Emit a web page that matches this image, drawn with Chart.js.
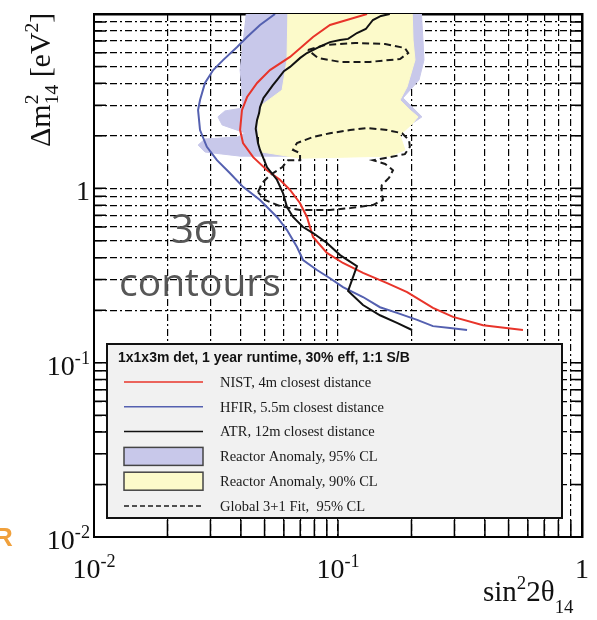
<!DOCTYPE html>
<html>
<head>
<meta charset="utf-8">
<script src="https://cdn.jsdelivr.net/npm/chart.js@4/dist/chart.umd.min.js"></script>
<style>
  html, body { margin: 0; padding: 0; background: #fff; }
  canvas { display: block; }
</style>
</head>
<body>
<canvas id="grafico" width="597" height="620"></canvas>
<script>
// Rejilla de los ejes (log-log)
const xTicks = [0.01, 0.02, 0.03, 0.04, 0.05, 0.06, 0.07, 0.08, 0.09,
                0.1, 0.2, 0.3, 0.4, 0.5, 0.6, 0.7, 0.8, 0.9, 1];
const yTicks = [0.01, 0.02, 0.03, 0.04, 0.05, 0.06, 0.07, 0.08, 0.09,
                0.1, 0.2, 0.3, 0.4, 0.5, 0.6, 0.7, 0.8, 0.9,
                1, 2, 3, 4, 5, 6, 7, 8, 9, 10];
const xEtiquetasValor = [0.01, 0.1, 1];
const xEtiquetas = ["10^-2", "10^-1", "1"];
const yEtiquetasValor = [0.01, 0.1, 1];
const yEtiquetas = ["10^-2", "10^-1", "1"];

// NIST, 4m
const nistX = [0.1315, 0.0927, 0.0790, 0.0636, 0.0526, 0.0466, 0.0424, 0.0404, 0.0397, 0.0408, 0.0449, 0.0512,
               0.0578, 0.0636, 0.0698, 0.0746, 0.0790, 0.0901, 0.1048, 0.1266, 0.159, 0.192, 0.245, 0.296, 0.393, 0.573];
const nistY = [10, 8.65, 7.38, 5.67, 4.77, 4.02, 3.34, 2.81, 2.16, 1.82, 1.51, 1.27,
               1.12, 0.978, 0.824, 0.685, 0.526, 0.426, 0.373, 0.327, 0.286, 0.254, 0.206, 0.183, 0.164, 0.154];

// HFIR, 5.5m
const hfirX = [0.0552, 0.0479, 0.0424, 0.0386, 0.0338, 0.0308, 0.0285, 0.0272, 0.0267, 0.0272, 0.0290, 0.0319,
               0.0361, 0.0408, 0.0479, 0.0562, 0.0618, 0.0679, 0.0719, 0.0820, 0.0927, 0.1048, 0.1266, 0.1486,
               0.1745, 0.211, 0.245, 0.288, 0.338];
const hfirY = [10, 8.65, 7.38, 6.47, 5.44, 4.77, 4.02, 3.21, 2.81, 2.16, 1.73, 1.45,
               1.22, 1.02, 0.857, 0.685, 0.576, 0.461, 0.388, 0.340, 0.305, 0.271, 0.238, 0.208,
               0.193, 0.176, 0.162, 0.158, 0.154];

// ATR, 12m (la parte alta es ondulada)
const atrX = [0.163, 0.150, 0.139, 0.130, 0.1196, 0.110, 0.102, 0.0927, 0.0850, 0.0746, 0.0700, 0.0636, 0.0600,
              0.0562, 0.0540, 0.0512, 0.0495, 0.0479, 0.0475, 0.0466, 0.0460, 0.0466, 0.0470, 0.0479,
              0.0512, 0.0562, 0.0595, 0.0618, 0.0654, 0.0719, 0.0790, 0.0901, 0.102, 0.1196, 0.110,
              0.1266, 0.1486, 0.1745, 0.201];
const atrY = [10, 9.75, 9.24, 8.20, 7.78, 7.20, 7.09, 6.90, 6.55, 5.97, 5.60, 4.97, 4.70,
              4.18, 3.90, 3.52, 3.30, 2.92, 2.70, 2.47, 2.20, 1.97, 1.82, 1.66,
              1.32, 1.12, 0.940, 0.781, 0.685, 0.600, 0.554, 0.486, 0.414, 0.358, 0.258,
              0.214, 0.187, 0.169, 0.154];

// Global 3+1 fit, 95% CL (dos contornos cerrados)
const ajusteAX = [0.0753, 0.0884, 0.1175, 0.156, 0.188, 0.194, 0.1795, 0.135, 0.102, 0.0828, 0.0753];
const ajusteAY = [6.21, 6.64, 6.82, 6.73, 6.38, 5.97, 5.52, 5.31, 5.31, 5.60, 6.21];
const ajusteBX = [0.0470, 0.0488, 0.0526, 0.0590, 0.0624, 0.0699, 0.0699, 0.0654, 0.0679, 0.0790, 0.0927,
                  0.112, 0.1315, 0.159, 0.183, 0.1955, 0.197, 0.188, 0.163, 0.139, 0.156, 0.168, 0.162,
                  0.151, 0.151, 0.153, 0.139, 0.112, 0.0927, 0.0698, 0.0578, 0.0502, 0.0470];
const ajusteBY = [0.952, 1.07, 1.19, 1.32, 1.45, 1.45, 1.594, 1.66, 1.82, 1.97, 2.07,
                  2.16, 2.22, 2.16, 2.07, 1.89, 1.73, 1.57, 1.51, 1.45, 1.38, 1.27, 1.15,
                  1.04, 0.940, 0.857, 0.802, 0.770, 0.751, 0.751, 0.792, 0.857, 0.952];

// Reactor Anomaly 95% CL y 90% CL (regiones)
const ra95X = [0.0424, 0.2189, 0.2230, 0.2251, 0.2148, 0.1847, 0.2011, 0.2209, 0.1973, 0.1713, 0.1231, 0.0699,
               0.0699, 0.0397, 0.0285, 0.0267, 0.0285, 0.0389, 0.0416, 0.0335, 0.0322, 0.0344, 0.0408, 0.0404,
               0.0397, 0.0408, 0.0424];
const ra95Y = [11, 11, 7.09, 5.45, 4.18, 3.30, 2.93, 2.57, 2.31, 1.94, 1.89, 1.66,
               1.53, 1.53, 1.615, 1.77, 1.92, 1.97, 2.08, 2.31, 2.57, 2.78, 2.89, 3.66,
               4.77, 6.82, 11];
const ra90X = [0.0624, 0.2011, 0.2030, 0.2068, 0.1918, 0.1795, 0.1973, 0.2128, 0.2030, 0.1795, 0.1882, 0.1634,
               0.0699, 0.0488, 0.0466, 0.0470, 0.0488, 0.0590, 0.0618, 0.0624];
const ra90Y = [11, 11, 7.09, 5.45, 3.81, 3.21, 2.81, 2.57, 2.37, 2.02, 1.66, 1.53,
               1.49, 1.615, 1.89, 2.47, 3.01, 3.66, 5.45, 11];

const tituloLeyenda = "1x1x3m det, 1 year runtime, 30% eff, 1:1 S/B";

const serif = '"Liberation Serif", "Times New Roman", serif';
const rojo = "rgb(232, 52, 42)";
const azul = "rgb(84, 96, 176)";
const lila = "rgb(200, 200, 234)";
const amarillo = "rgb(252, 250, 202)";

function puntos(xs, ys) {
  return xs.map((x, i) => ({ x: x, y: ys[i] }));
}

// "10^-2" -> ["10", {sup: "-2"}]
function partesEtiqueta(txt) {
  const p = txt.split("^");
  return p.length > 1 ? [p[0], { sup: p[1] }] : [p[0]];
}

// Texto con superindices / subindices
function anchoRico(c, partes, size) {
  let w = 0;
  partes.forEach((p) => {
    if (typeof p === "string") {
      c.font = size + "px " + serif;
      w += c.measureText(p).width;
    } else {
      c.font = (size * 0.65) + "px " + serif;
      w += Math.max(p.sup ? c.measureText(p.sup).width : 0, p.sub ? c.measureText(p.sub).width : 0);
    }
  });
  return w;
}

function dibujarRico(c, partes, x, y, size, sube, baja) {
  let cx = x;
  partes.forEach((p) => {
    if (typeof p === "string") {
      c.font = size + "px " + serif;
      c.fillText(p, cx, y);
      cx += c.measureText(p).width;
    } else {
      c.font = (size * 0.65) + "px " + serif;
      let w = 0;
      if (p.sup) { c.fillText(p.sup, cx, y - sube); w = c.measureText(p.sup).width; }
      if (p.sub) { c.fillText(p.sub, cx, y + baja); w = Math.max(w, c.measureText(p.sub).width); }
      cx += w;
    }
  });
}

// Texto de fondo ("3σ contours"), sobre la rejilla y bajo los datos
const pluginFondo = {
  id: "fondo",
  beforeDatasetsDraw(chart) {
    const c = chart.ctx;
    c.save();
    c.fillStyle = "#575757";
    c.textBaseline = "alphabetic";
    c.font = '40px "Open Sans"';
    c.fillText("3σ", 171, 243);
    c.font = '39px "Open Sans"';
    c.fillText("contours", 119, 296);
    c.restore();
  }
};

// Leyenda, marcas de los ejes y textos
const pluginDecoracion = {
  id: "decoracion",
  afterDatasetsDraw(chart) {
    const c = chart.ctx;
    const area = chart.chartArea;
    const sx = chart.scales.x;
    const sy = chart.scales.y;
    const ds = chart.data.datasets;

    // caja de la leyenda
    c.save();
    c.fillStyle = "#f1f1f1";
    c.fillRect(107, 344, 455, 174);
    c.strokeStyle = "#111";
    c.lineWidth = 2;
    c.strokeRect(107, 344, 455, 174);

    c.fillStyle = "#111";
    c.textBaseline = "middle";
    c.font = 'bold 14px "Liberation Sans", Arial, sans-serif';
    c.fillText(tituloLeyenda, 118, 358);

    const filas = [ds[0], ds[1], ds[2], ds[6], ds[5], ds[3]];
    filas.forEach((d, i) => {
      const y = 382 + i * 24.8;
      c.save();
      if (d.fill === "shape") {
        c.fillStyle = d.backgroundColor;
        c.fillRect(124, y - 9, 79, 18);
        c.strokeStyle = "#444";
        c.lineWidth = 1.5;
        c.strokeRect(124, y - 9, 79, 18);
      } else {
        c.strokeStyle = d.borderColor;
        c.lineWidth = 1.5;
        c.setLineDash(d.borderDash ? [5, 3] : []);
        c.beginPath();
        c.moveTo(124, y);
        c.lineTo(203, y);
        c.stroke();
      }
      c.restore();
      c.fillStyle = "#1a1a1a";
      c.font = "14.5px " + serif;
      c.fillText(d.label, 220, y + 1);
    });

    // marcas solidas hacia dentro
    c.strokeStyle = "#000";
    c.lineWidth = 1.5;
    c.setLineDash([]);
    c.beginPath();
    xTicks.forEach((v) => {
      const px = sx.getPixelForValue(v);
      c.moveTo(px, area.bottom);
      c.lineTo(px, area.bottom - 17);
    });
    yTicks.forEach((v) => {
      const py = sy.getPixelForValue(v);
      c.moveTo(area.left, py);
      c.lineTo(area.left + 12, py);
      c.moveTo(area.right, py);
      c.lineTo(area.right - 12, py);
    });
    c.stroke();
    c.restore();
  },
  afterDraw(chart) {
    const c = chart.ctx;
    const sx = chart.scales.x;
    const sy = chart.scales.y;
    c.save();
    c.fillStyle = "#111";
    c.textBaseline = "alphabetic";

    // etiquetas del eje x
    xEtiquetasValor.forEach((v, i) => {
      const partes = partesEtiqueta(xEtiquetas[i]);
      const w = anchoRico(c, partes, 28);
      dibujarRico(c, partes, sx.getPixelForValue(v) - w / 2, 578, 28, 11, 0);
    });
    // etiquetas del eje y
    yEtiquetasValor.forEach((v, i) => {
      const partes = partesEtiqueta(yEtiquetas[i]);
      const w = anchoRico(c, partes, 28);
      dibujarRico(c, partes, 90 - w, sy.getPixelForValue(v) + 12, 28, 11, 0);
    });

    // titulo eje x
    dibujarRico(c, ["sin", { sup: "2" }, "2θ", { sub: "14" }], 483, 601, 29, 12, 12);

    // titulo eje y (girado)
    c.save();
    c.translate(50, 147);
    c.rotate(-Math.PI / 2);
    dibujarRico(c, ["Δm", { sup: "2", sub: "14" }, " [eV", { sup: "2" }, "]"], 0, 0, 30, 12, 8);
    c.restore();

    // restos de la diapositiva original
    c.fillStyle = "rgb(240, 160, 60)";
    c.font = 'bold 26px "Liberation Sans", Arial, sans-serif';
    c.fillText("R", -6, 546);
    c.restore();
  }
};

const ejeLog = (min, max, pos, lista) => ({
  type: "logarithmic",
  position: pos,
  min: min,
  max: max,
  afterBuildTicks: (s) => { s.ticks = lista.map((v) => ({ value: v })); },
  ticks: { display: false },
  grid: { color: "#000", lineWidth: 1.2, drawTicks: false },
  border: { display: true, color: "#000", width: 2, dash: [7, 3, 2, 3] }
});

const ejeMarco = (min, max, pos) => ({
  type: "logarithmic",
  position: pos,
  min: min,
  max: max,
  ticks: { display: false },
  grid: { display: false, drawTicks: false },
  border: { display: true, color: "#000", width: 2.5 }
});

new Chart(document.getElementById("grafico"), {
  type: "scatter",
  data: {
    datasets: [
      { label: "NIST, 4m closest distance", data: puntos(nistX, nistY), showLine: true,
        borderColor: rojo, borderWidth: 2, pointRadius: 0, fill: false, order: 1 },
      { label: "HFIR, 5.5m closest distance", data: puntos(hfirX, hfirY), showLine: true,
        borderColor: azul, borderWidth: 2, pointRadius: 0, fill: false, order: 2 },
      { label: "ATR, 12m closest distance", data: puntos(atrX, atrY), showLine: true,
        borderColor: "#111", borderWidth: 2, pointRadius: 0, fill: false, order: 0 },
      { label: "Global 3+1 Fit,  95% CL", data: puntos(ajusteAX, ajusteAY), showLine: true,
        borderColor: "#1a1a1a", borderWidth: 2, borderDash: [7, 4], pointRadius: 0, fill: false, order: 3 },
      { label: "Global 3+1 Fit,  95% CL", data: puntos(ajusteBX, ajusteBY), showLine: true,
        borderColor: "#1a1a1a", borderWidth: 2, borderDash: [7, 4], pointRadius: 0, fill: false, order: 3 },
      { label: "Reactor Anomaly, 90% CL", data: puntos(ra90X, ra90Y), showLine: true,
        borderColor: amarillo, borderWidth: 1, backgroundColor: amarillo, pointRadius: 0, fill: "shape", order: 10 },
      { label: "Reactor Anomaly, 95% CL", data: puntos(ra95X, ra95Y), showLine: true,
        borderColor: lila, borderWidth: 1, backgroundColor: lila, pointRadius: 0, fill: "shape", order: 11 }
    ]
  },
  options: {
    responsive: false,
    animation: false,
    layout: { padding: { left: 94, top: 14, right: 15, bottom: 83 } },
    plugins: {
      legend: { display: false },
      tooltip: { enabled: false }
    },
    scales: {
      x: ejeLog(0.01, 1, "bottom", xTicks),
      y: ejeLog(0.01, 10, "left", yTicks),
      xArriba: ejeMarco(0.01, 1, "top"),
      yDerecha: ejeMarco(0.01, 10, "right")
    }
  },
  plugins: [pluginFondo, pluginDecoracion]
});
</script>
</body>
</html>
